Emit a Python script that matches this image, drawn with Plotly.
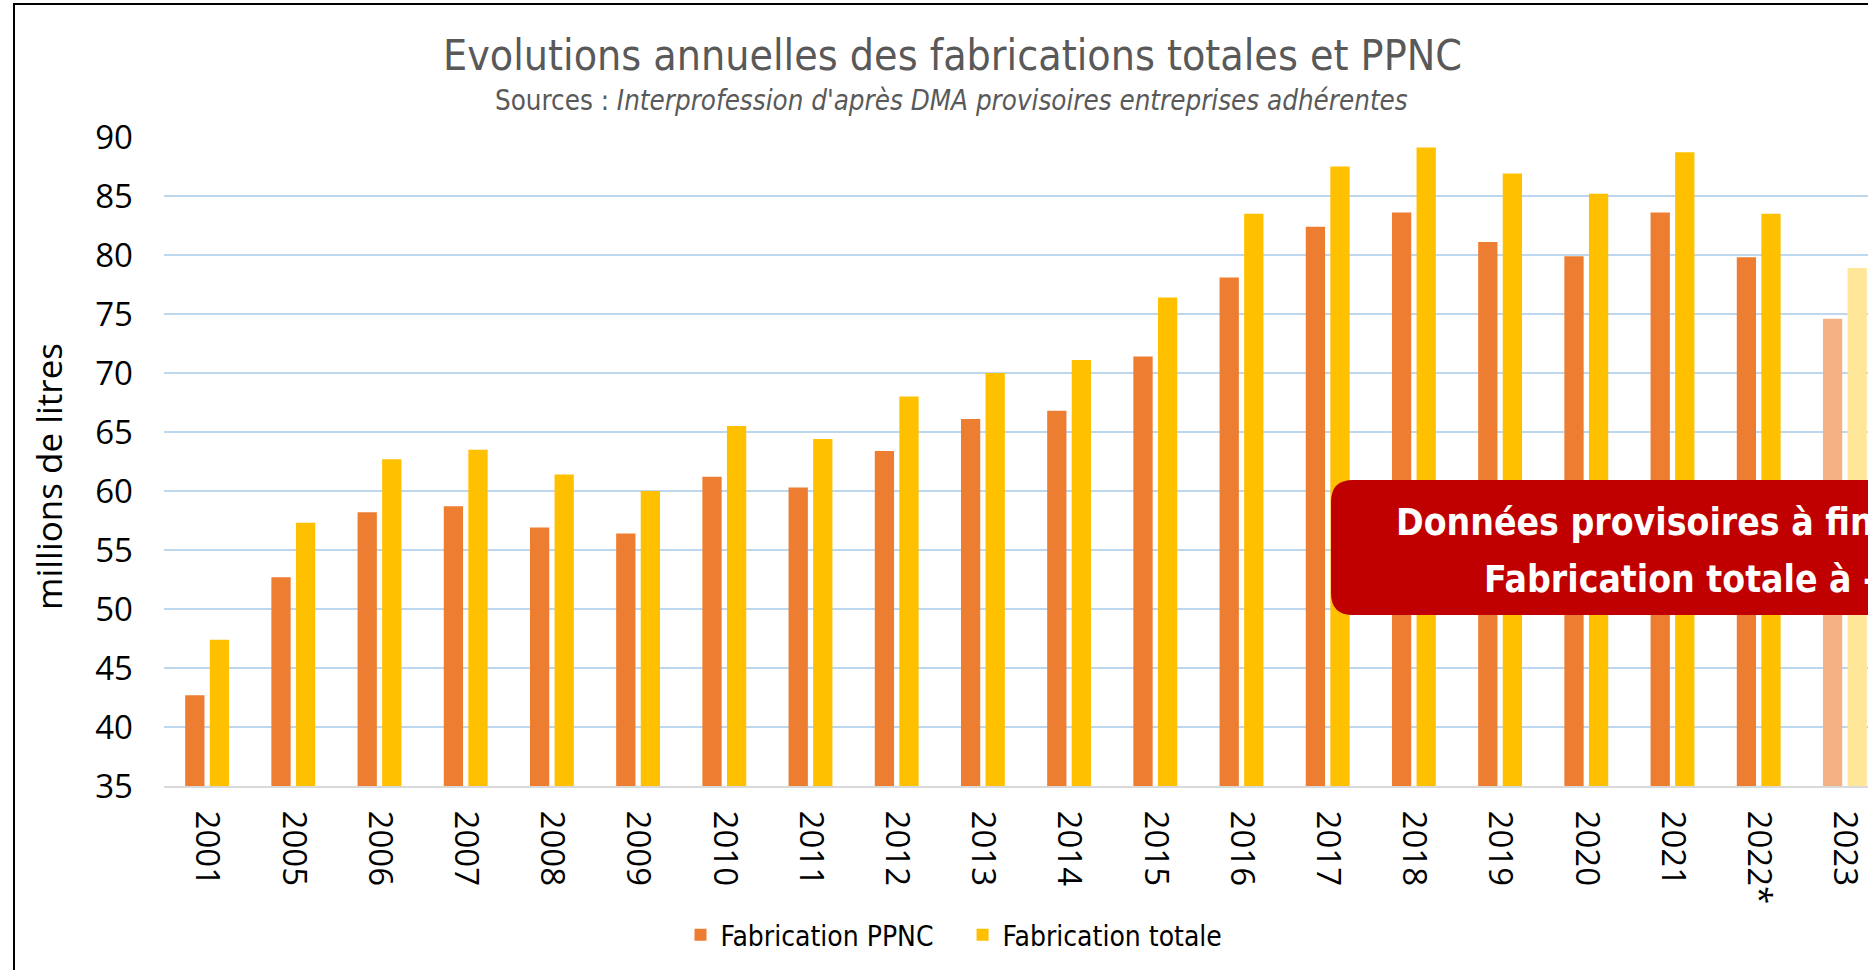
import plotly.graph_objects as go

# ---- data ----
years = ["2001", "2005", "2006", "2007", "2008", "2009", "2010", "2011", "2012", "2013",
         "2014", "2015", "2016", "2017", "2018", "2019", "2020", "2021", "2022*", "2023"]
fab_ppnc = [42.7, 52.7, 58.2, 58.7, 56.9, 56.4, 61.2, 60.3, 63.4, 66.1,
            66.8, 71.4, 78.1, 82.4, 83.6, 81.1, 79.9, 83.6, 79.8, 74.6]
fab_totale = [47.4, 57.3, 62.7, 63.5, 61.4, 60.0, 65.5, 64.4, 68.0, 70.0,
              71.1, 76.4, 83.5, 87.5, 89.1, 86.9, 85.2, 88.7, 83.5, 78.9]
y_ticks = [35, 40, 45, 50, 55, 60, 65, 70, 75, 80, 85, 90]

# ---- layout constants (pixels) ----
W, H = 1868, 970
L, R, T, B = 164, 0, 137, 184
PW, PH = W - L - R, H - T - B

def px(x):
    return (x - L) / PW

def py(y):
    return (H - B - y) / PH

ORANGE, ORANGE_L = "#ED7D31", "#F4B183"
YELLOW, YELLOW_L = "#FFC000", "#FFE699"
c_ppnc = [ORANGE] * (len(years) - 1) + [ORANGE_L]
c_tot = [YELLOW] * (len(years) - 1) + [YELLOW_L]

NARROW = "DejaVu Sans Condensed, Liberation Sans Narrow, Roboto, sans-serif"
SANS = "Open Sans, Noto Sans, sans-serif"

fig = go.Figure()
fig.add_trace(go.Bar(name="Fabrication PPNC\u00a0\u00a0\u00a0", x=years, y=fab_ppnc,
                     marker=dict(color=c_ppnc, line=dict(width=0))))
fig.add_trace(go.Bar(name="Fabrication totale", x=years, y=fab_totale,
                     marker=dict(color=c_tot, line=dict(width=0))))

fig.update_layout(
    width=W, height=H,
    margin=dict(l=L, r=R, t=T, b=B, pad=0),
    paper_bgcolor="white", plot_bgcolor="white",
    barmode="group", bargap=0.43, bargroupgap=0.215,
    showlegend=True,
    legend=dict(orientation="h", x=px(954), xanchor="center", y=py(935), yanchor="middle",
                font=dict(family=NARROW, size=28, color="#000000"),
                itemwidth=30, traceorder="normal"),
    xaxis=dict(type="category", range=[-0.5, -0.5 + PW / 86.2],
               tickangle=90, tickfont=dict(family=SANS, size=33, color="#000000"),
               showgrid=False, showline=True, linecolor="#D9D9D9", linewidth=2,
               ticks="", ticklabelstandoff=16, fixedrange=True),
    yaxis=dict(range=[35, 90], tickvals=y_ticks, ticktext=[str(v) for v in y_ticks],
               tickfont=dict(family=SANS, size=33, color="#000000"),
               showgrid=True, gridcolor="#BDD7EE", gridwidth=2,
               zeroline=False, showline=False, ticks="", ticklabelstandoff=30),
)

annotations = [
    dict(text="Evolutions annuelles des fabrications totales et PPNC",
         x=px(952), y=py(56), xref="paper", yref="paper", showarrow=False,
         xanchor="center", yanchor="middle",
         font=dict(family=NARROW, size=42.5, color="#595959")),
    dict(text="Sources : <i>Interprofession d'après DMA provisoires entreprises adhérentes</i>",
         x=px(951), y=py(100), xref="paper", yref="paper", showarrow=False,
         xanchor="center", yanchor="middle",
         font=dict(family=NARROW, size=27.5, color="#595959")),
    dict(text="millions de litres", textangle=-90,
         x=px(48), y=py(477), xref="paper", yref="paper", showarrow=False,
         xanchor="center", yanchor="middle",
         font=dict(family=SANS, size=35, color="#000000")),
    dict(text="<b>Données provisoires à fin novembre</b>",
         x=px(1394), y=py(522), xref="paper", yref="paper", showarrow=False,
         xanchor="left", yanchor="middle", align="left",
         font=dict(family=NARROW, size=37, color="#FFFFFF")),
    dict(text="<b>Fabrication totale à -5,4 %</b>",
         x=px(1482), y=py(579), xref="paper", yref="paper", showarrow=False,
         xanchor="left", yanchor="middle", align="left",
         font=dict(family=NARROW, size=37, color="#FFFFFF")),
]
fig.update_layout(annotations=annotations)

# rounded red box
x0, x1, y0, y1, r = 1331, 2110, 480, 615, 22
path = (f"M {px(x0 + r)},{py(y0)} L {px(x1 - r)},{py(y0)} "
        f"Q {px(x1)},{py(y0)} {px(x1)},{py(y0 + r)} L {px(x1)},{py(y1 - r)} "
        f"Q {px(x1)},{py(y1)} {px(x1 - r)},{py(y1)} L {px(x0 + r)},{py(y1)} "
        f"Q {px(x0)},{py(y1)} {px(x0)},{py(y1 - r)} L {px(x0)},{py(y0 + r)} "
        f"Q {px(x0)},{py(y0)} {px(x0 + r)},{py(y0)} Z")
shapes = [
    dict(type="path", path=path, xref="paper", yref="paper",
         fillcolor="#C00000", line=dict(width=0), layer="above"),
    dict(type="line", xref="paper", yref="paper", x0=px(14), x1=px(14), y0=py(4), y1=py(972),
         line=dict(color="#000000", width=2)),
    dict(type="line", xref="paper", yref="paper", x0=px(13), x1=px(1870), y0=py(4), y1=py(4),
         line=dict(color="#000000", width=2)),
]
fig.update_layout(shapes=shapes)

fig.write_html("out.html", config={"displayModeBar": False},
               post_script="document.body.style.margin='0';document.body.style.overflow='hidden';")
